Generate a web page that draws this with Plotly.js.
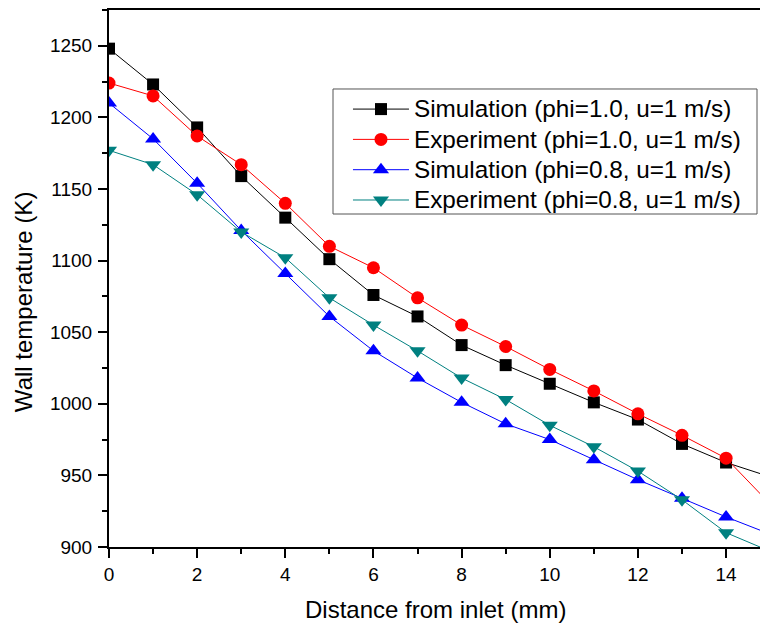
<!DOCTYPE html>
<html>
<head>
<meta charset="utf-8">
<script src="https://cdn.plot.ly/plotly-3.0.1.min.js"></script>
<style>html,body{margin:0;padding:0;background:#fff;}#chart{width:760px;height:625px;}</style>
</head>
<body>
<div id="chart"></div>
<script>
// Distance from inlet (mm)
const distance = [0, 1, 2, 3, 4, 5, 6, 7, 8, 9, 10, 11, 12, 13, 14, 15];
// Wall temperature (K)
const simPhi10 = [1248, 1223, 1193, 1159, 1130, 1101, 1076, 1061, 1041, 1027, 1014, 1001, 989, 972, 959, 949];
const expPhi10 = [1224, 1215, 1187, 1167, 1140, 1110, 1095, 1074, 1055, 1040, 1024, 1009, 993, 978, 962, 930];
const simPhi08 = [1210, 1185, 1154, 1121, 1091, 1061, 1037, 1018, 1001, 986, 975, 961, 947, 934, 921, 909];
const expPhi08 = [1177, 1167, 1146, 1120, 1102, 1074, 1055, 1037, 1018, 1003, 985, 970, 953, 933, 910, 897];
const seriesNames = [
  'Simulation (phi=1.0, u=1 m/s)',
  'Experiment (phi=1.0, u=1 m/s)',
  'Simulation (phi=0.8, u=1 m/s)',
  'Experiment (phi=0.8, u=1 m/s)'
];
const xTitle = 'Distance from inlet (mm)';
const yTitle = 'Wall temperature (K)';

const seriesData = [simPhi10, expPhi10, simPhi08, expPhi08];
const colors = ['#000000', '#ff0000', '#0000ff', '#008080'];
const symbols = ['square', 'circle', 'triangle-up', 'triangle-down'];
const sizes = [12, 13, 14, 14];

const traces = seriesData.map((ys, i) => ({
  x: distance,
  y: ys,
  name: '<span style="font-size:24.3px">' + seriesNames[i] + '</span>',
  type: 'scatter',
  mode: 'lines+markers',
  line: {color: colors[i], width: 1},
  marker: {color: colors[i], symbol: symbols[i], size: sizes[i]}
}));

const font = 'Arial, "Liberation Sans", Helvetica, sans-serif';

const layout = {
  width: 760,
  height: 625,
  margin: {l: 109, r: 0, t: 10, b: 78, pad: 0},
  paper_bgcolor: '#ffffff',
  plot_bgcolor: '#ffffff',
  font: {family: font, size: 19, color: '#000'},
  showlegend: true,
  legend: {
    x: 0.3671, y: 0.853, xanchor: 'left', yanchor: 'top',
    bgcolor: 'rgba(0,0,0,0)', borderwidth: 0,
    font: {family: font, size: 21, color: '#000'},
    itemwidth: 56,
    traceorder: 'normal'
  },
  shapes: [
    {type: 'rect', xref: 'paper', yref: 'paper', x0: 0.3441, x1: 0.9954, y0: 0.6201, y1: 0.8529,
     line: {color: '#555555', width: 1}, fillcolor: '#ffffff', layer: 'below'}
  ],
  xaxis: {
    range: [0, 14.77],
    dtick: 2, tick0: 0,
    ticks: 'outside', ticklen: 9, tickwidth: 2, tickcolor: '#000',
    showline: true, linewidth: 2, linecolor: '#000', mirror: true,
    showgrid: false, zeroline: false,
    tickfont: {family: font, size: 19, color: '#000'},
    minor: {dtick: 1, ticks: 'outside', ticklen: 5, tickwidth: 2, tickcolor: '#000', showgrid: false}
  },
  yaxis: {
    range: [900, 1275],
    dtick: 50, tick0: 900,
    ticks: 'outside', ticklen: 9, tickwidth: 2, tickcolor: '#000',
    ticklabelstandoff: 2,
    showline: true, linewidth: 2, linecolor: '#000', mirror: true,
    showgrid: false, zeroline: false,
    tickfont: {family: font, size: 19, color: '#000'},
    minor: {dtick: 25, ticks: 'outside', ticklen: 5, tickwidth: 2, tickcolor: '#000', showgrid: false}
  },
  annotations: [
    {text: xTitle, xref: 'paper', yref: 'paper', x: 0.5008, y: -0.1173, xanchor: 'center', yanchor: 'middle', showarrow: false, font: {family: font, size: 24, color: '#000'}},
    {text: yTitle, xref: 'paper', yref: 'paper', x: -0.1321, y: 0.456, xanchor: 'center', yanchor: 'middle', textangle: -90, showarrow: false, font: {family: font, size: 24, color: '#000'}}
  ]
};

Plotly.newPlot('chart', traces, layout, {staticPlot: true, displayModeBar: false});
</script>
</body>
</html>
